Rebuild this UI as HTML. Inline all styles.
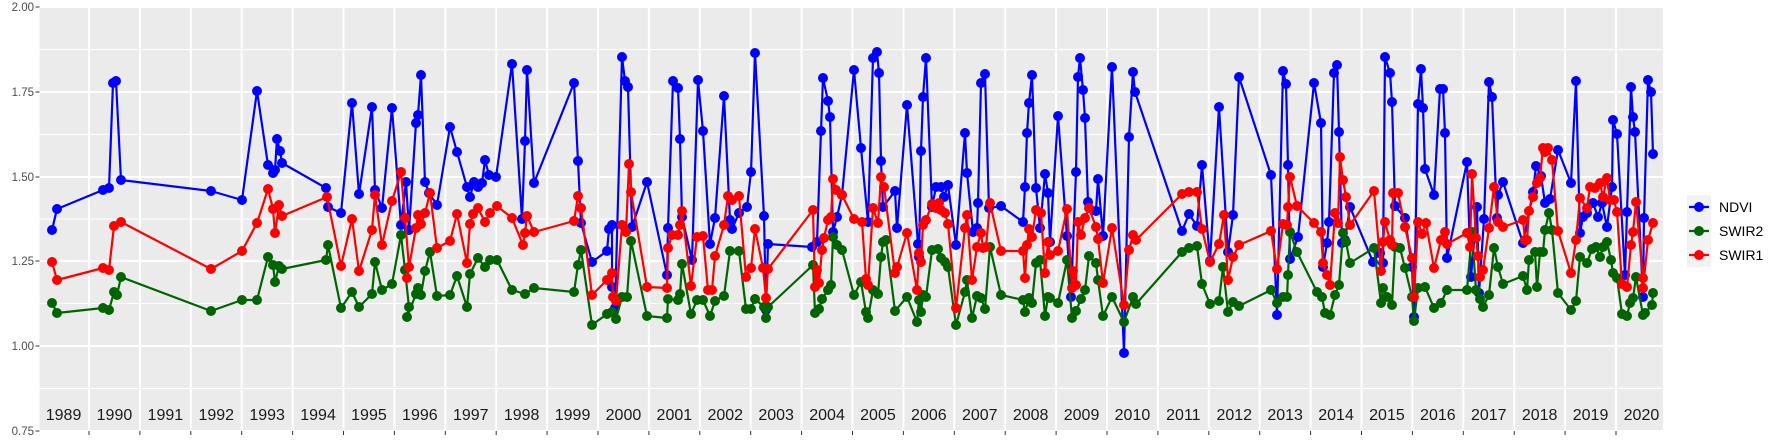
<!DOCTYPE html>
<html><head><meta charset="utf-8"><style>
html,body{margin:0;padding:0;background:#fff;}
svg{display:block;font-family:"Liberation Sans",sans-serif;}
</style></head><body>
<svg id="s" width="1773" height="442" viewBox="0 0 1773 442" xmlns="http://www.w3.org/2000/svg">
<rect x="39.5" y="6" width="1623.5" height="425" fill="#ebebeb"/>
<g id="grid"></g>
<g id="data"></g>
<g id="axes" fill="#4d4d4d" font-size="11.5" text-anchor="end"></g>
<g id="years" fill="#1a1a1a" font-size="16" text-anchor="middle"></g>
<rect x="1687" y="195" width="24" height="72" fill="#f2f2f2"/>
<g stroke-width="2.2"><line x1="1689" y1="207" x2="1709" y2="207" stroke="#0000ff"/><circle cx="1699" cy="207" r="5" fill="#0000ff"/>
<line x1="1689" y1="231" x2="1709" y2="231" stroke="#006400"/><circle cx="1699" cy="231" r="5" fill="#006400"/>
<line x1="1689" y1="255" x2="1709" y2="255" stroke="#ff0000"/><circle cx="1699" cy="255" r="5" fill="#ff0000"/></g>
<g font-size="14" fill="#000"><text x="1719" y="212">NDVI</text><text x="1719" y="236">SWIR2</text><text x="1719" y="260">SWIR1</text></g>
</svg>
<script>
var NS="http://www.w3.org/2000/svg";
function el(p,t,a,txt){var e=document.createElementNS(NS,t);for(var k in a)e.setAttribute(k,a[k]);if(txt)e.textContent=txt;p.appendChild(e);return e;}
var g=document.getElementById('grid'),ax=document.getElementById('axes'),yr=document.getElementById('years');
var ys=[7,92,177,261,346,431],lab=["2.00","1.75","1.50","1.25","1.00","0.75"];
for(var i=0;i<5;i++){el(g,'line',{x1:39.5,x2:1663,y1:(ys[i]+ys[i+1])/2,y2:(ys[i]+ys[i+1])/2,stroke:'#fff','stroke-width':1});}
for(var i=0;i<6;i++){el(g,'line',{x1:39.5,x2:1663,y1:ys[i],y2:ys[i],stroke:'#fff','stroke-width':2});
el(ax,'text',{x:34,y:ys[i]+4},lab[i]);el(ax,'line',{x1:35.5,x2:39.5,y1:ys[i],y2:ys[i],stroke:'#333','stroke-width':1});}
for(var k=0;k<=30;k++){var x=89+50.9*k;el(g,'line',{x1:x,x2:x,y1:6,y2:431,stroke:'#fff','stroke-width':2});el(ax,'line',{x1:x,x2:x,y1:431,y2:435,stroke:'#333','stroke-width':1});}
for(var y=1989;y<=2020;y++){el(yr,'text',{x:89+50.9*(y-1990)+25.45,y:420},String(y));}
var N=[52,230,57,209,103,190,109,188,113,83,116,81,121,180,211,191,242,200,257,91,268,165,273,173,275,170,277,139,280,151,282,163,
326,188,328,207,341,213,352,103,359,194,372,107,375,190,382,208,392,108,401,225,406,182,409,230,416,123,418,115,421,75,425,182,429,193,437,205,450,127,457,152,467,187,470,197,474,182,478,187,482,183,485,160,489,175,496,177,
512,64,522,219,525,141,527,70,534,183,574,83,578,161,581,223,592,262,607,251,609,229,612,225,612,287,615,308,622,57,625,81,628,87,632,227,647,182,667,275,668,228,673,81,678,88,680,139,682,217,692,260,698,80,703,131,
710,244,715,218,724,96,730,220,732,229,739,213,747,207,751,172,755,53,764,216,766,310,768,244,812,247,817,242,821,131,823,78,828,101,830,117,833,232,837,217,842,195,854,70,861,148,868,222,873,58,877,52,879,73,881,161,883,207,895,191,897,228,907,105,
918,244,919,257,921,151,923,97,926,58,932,207,936,187,941,187,944,197,948,185,956,245,965,133,967,173,973,232,977,228,978,203,981,83,985,74,989,208,1001,206,1023,222,1025,187,1027,133,1029,103,1032,75,1036,188,1040,228,1045,174,1048,193,1050,242,1058,116,1067,236,1071,297,1076,172,1078,77,1080,58,1083,90,1085,118,1088,202,1096,211,1098,179,1103,236,1112,67,
1124,353,1129,137,1133,72,1135,92,1182,231,1189,214,1197,226,1202,165,1210,261,1219,107,1228,252,1233,215,1239,77,1271,175,1277,315,1283,71,1286,84,1288,165,1290,259,1298,237,1314,83,
1321,123,1323,267,1327,243,1329,222,1334,73,1337,65,1339,132,1342,243,1345,240,1350,207,1373,262,1380,253,1383,263,1385,57,1390,73,1392,102,1395,206,1405,218,1412,267,1414,317,1418,104,1421,69,1423,108,1425,169,1434,195,1440,89,1443,89,1445,133,1447,258,1467,162,1471,277,1477,207,1479,293,1484,219,1489,82,1492,97,1497,218,1498,195,1503,182,1523,243,
1533,192,1536,166,1541,176,1545,203,1550,199,1558,150,1571,183,1576,81,1580,233,1583,217,1587,213,1593,203,1598,217,1602,203,1607,227,1612,187,1613,120,1617,134,1625,275,1627,212,1631,87,1633,117,1635,132,1643,297,1644,218,1648,80,1651,92,1653,154];
var R=[52,262,57,280,103,268,109,270,114,226,121,222,211,269,242,251,257,223,268,189,273,209,275,233,279,205,282,216,
327,197,341,266,352,219,359,271,372,230,375,195,382,245,392,201,401,172,405,218,409,267,407,278,416,228,418,215,421,224,425,213,430,193,437,248,450,241,457,214,467,263,470,224,473,214,478,208,485,222,490,213,497,206,
512,218,523,245,525,233,527,216,534,232,574,221,578,196,581,208,592,295,607,280,612,273,613,297,616,301,622,225,626,232,629,164,631,192,647,287,667,288,668,248,672,235,678,235,680,225,682,211,691,286,697,237,703,236,
708,290,712,290,715,256,724,225,728,196,732,200,739,196,746,277,751,268,755,229,763,268,766,298,768,269,813,210,815,287,817,270,819,283,822,250,824,238,828,220,831,217,833,179,836,190,842,195,854,219,862,222,866,279,868,285,873,208,878,223,881,177,884,187,895,273,897,267,907,233,
917,290,919,253,921,262,923,225,926,220,932,204,936,208,939,203,941,210,945,213,948,224,956,308,965,228,967,215,972,280,977,247,981,233,983,248,986,247,990,203,1001,251,1023,251,1025,278,1027,245,1029,229,1032,237,1036,210,1041,213,1045,273,1048,242,1050,255,1058,251,1067,209,1072,288,1073,271,1076,285,1078,222,1081,235,1085,218,1089,208,1096,227,1098,239,1103,283,1112,228,
1124,305,1129,250,1133,235,1136,240,1182,194,1189,192,1197,192,1202,229,1210,262,1219,244,1224,215,1228,280,1233,257,1239,245,1271,231,1277,269,1283,224,1287,225,1288,207,1290,177,1297,206,1314,223,
1321,232,1323,263,1327,275,1330,285,1335,213,1338,223,1340,157,1343,180,1346,197,1350,225,1374,191,1381,271,1383,242,1385,222,1390,240,1392,245,1393,193,1398,193,1405,227,1412,258,1414,297,1418,222,1422,234,1426,223,1434,268,1441,240,1445,232,1447,244,1467,233,1470,247,1472,174,1476,238,1478,256,1480,277,1483,270,1489,228,1494,187,1498,222,1503,227,1523,220,
1525,240,1527,240,1529,211,1533,197,1537,183,1540,178,1543,148,1545,152,1548,148,1552,160,1558,231,1571,273,1576,240,1580,198,1587,208,1590,187,1595,188,1600,183,1603,197,1607,178,1610,200,1614,200,1617,212,1622,284,1627,287,1631,245,1633,232,1636,202,1643,278,1643,288,1648,240,1653,223];
var G=[52,303,57,313,103,308,109,310,114,292,117,295,121,277,211,311,242,300,257,300,268,257,273,265,275,282,279,266,282,269,
326,260,328,245,341,308,352,292,359,307,372,294,375,262,382,290,392,284,401,235,405,270,409,307,407,317,416,294,418,288,421,295,425,271,430,252,437,296,450,295,457,276,467,307,470,274,478,258,485,267,490,260,497,260,
512,290,525,294,534,288,574,292,578,265,581,250,592,325,607,314,612,312,616,319,622,297,627,297,631,241,647,316,667,318,668,299,678,300,680,294,682,264,691,314,697,300,703,300,
710,316,715,301,724,296,730,251,739,251,746,309,751,309,755,299,764,307,766,318,768,307,813,265,815,313,819,309,822,299,828,290,831,285,833,237,837,245,842,250,854,295,861,282,866,312,868,318,873,290,878,294,881,257,883,242,886,240,895,311,907,297,
917,322,919,300,921,312,923,295,926,297,932,250,938,249,941,258,945,262,948,267,956,325,965,292,967,280,972,318,977,296,981,298,985,309,990,247,1001,295,1023,300,1025,312,1029,298,1032,303,1036,263,1040,260,1045,316,1048,297,1050,298,1058,303,1067,260,1072,318,1076,311,1081,299,1085,290,1089,256,1096,263,1098,280,1103,316,1112,297,
1124,322,1133,297,1136,304,1182,252,1189,248,1197,246,1202,284,1210,304,1219,301,1223,267,1228,312,1233,302,1239,306,1271,290,1277,303,1283,297,1287,297,1288,275,1290,232,1297,252,
1317,292,1322,297,1325,313,1330,315,1335,295,1339,285,1343,233,1346,242,1350,263,1374,248,1381,303,1383,288,1387,297,1392,305,1395,247,1400,248,1405,268,1412,297,1414,321,1418,288,1425,287,1434,308,1441,303,1447,290,1467,290,1472,232,1476,290,1480,299,1483,307,1489,295,1494,248,1498,267,1503,284,1523,276,
1527,290,1529,260,1535,252,1537,287,1540,252,1543,252,1545,230,1549,213,1552,230,1558,293,1571,310,1576,301,1580,257,1587,263,1592,249,1596,247,1600,257,1603,247,1607,242,1611,260,1613,273,1617,278,1622,314,1627,316,1630,303,1633,298,1636,277,1643,315,1645,313,1652,305,1653,293];
var d=document.getElementById('data');
function draw(a,c){var p=[];for(var i=0;i<a.length;i+=2)p.push(a[i]+','+a[i+1]);
el(d,'polyline',{points:p.join(' '),fill:'none',stroke:c,'stroke-width':2.2,'stroke-linejoin':'round'});
for(var i=0;i<a.length;i+=2)el(d,'circle',{cx:a[i],cy:a[i+1],r:5,fill:c});}
draw(N,'#0000ff');draw(G,'#006400');draw(R,'#ff0000');
</script>
</body></html>
